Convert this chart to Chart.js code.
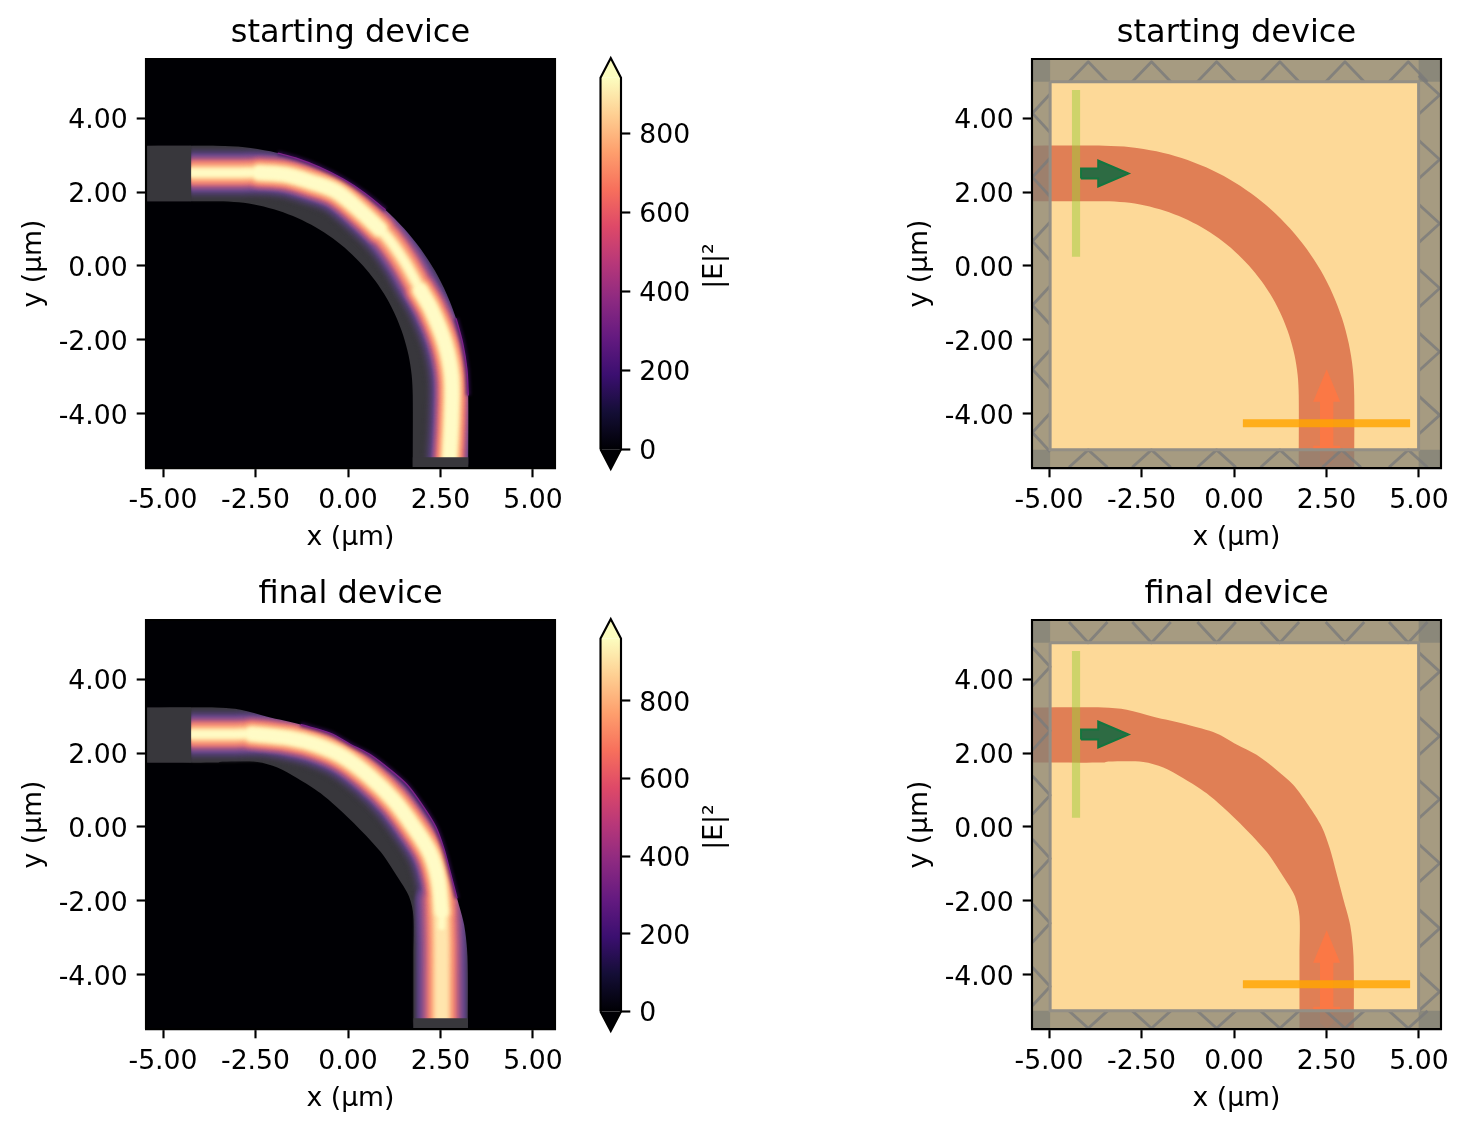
<!DOCTYPE html>
<html><head><meta charset="utf-8">
<script src="https://cdn.jsdelivr.net/npm/chart.js@4"></script>
<style>html,body{margin:0;padding:0;background:#fff;overflow:hidden;width:1468px;height:1132px}canvas{position:absolute}</style>
</head><body>
<script>
// ---------- data ----------
const xTicks=[-5,-2.5,0,2.5,5];
const yTicks=[-4,-2,0,2,4];
const cbTicks=[0,200,400,600,800];
const titles=["starting device","final device"];
const xLabel="x (µm)",yLabel="y (µm)",cbLabel="|E|²";
const vmaxStart=940,vmaxFinal=960;

const startOuter=[[-5.43,3.25],[-3.5,3.25],[-2.795,3.213],[-2.097,3.102],[-1.414,2.92],[-0.755,2.666],[-0.125,2.346],[0.468,1.961],[1.016,1.516],[1.516,1.016],[1.961,0.468],[2.346,-0.125],[2.666,-0.755],[2.92,-1.414],[3.102,-2.097],[3.213,-2.795],[3.25,-3.5],[3.25,-5.43]];
const startInner=[[-5.43,1.75],[-3.5,1.75],[-2.951,1.721],[-2.409,1.635],[-1.878,1.493],[-1.365,1.296],[-0.875,1.047],[-0.414,0.747],[0.013,0.401],[0.401,0.013],[0.747,-0.414],[1.047,-0.875],[1.296,-1.365],[1.493,-1.878],[1.635,-2.409],[1.721,-2.951],[1.75,-3.5],[1.75,-5.43]];
const finalOuter=[[-5.43,3.23],[-3.53,3.23],[-2.9,3.17],[-2.18,2.98],[-1.28,2.77],[-0.47,2.53],[0.07,2.23],[0.61,1.95],[1.15,1.54],[1.6,1.14],[2.01,0.59],[2.37,0.01],[2.59,-0.58],[2.77,-1.25],[2.95,-1.93],[3.14,-2.65],[3.23,-3.5],[3.24,-5.43]];
const finalInner=[[-5.43,1.74],[-3.53,1.74],[-3.4,1.77],[-2.45,1.76],[-1.91,1.61],[-1.37,1.32],[-0.74,0.91],[0.07,0.19],[0.88,-0.67],[1.33,-1.34],[1.65,-1.88],[1.77,-2.42],[1.77,-3.5],[1.77,-5.43]];

const startRidge=[[-4.24,2.52],[-3.19,2.52],[-2.29,2.52],[-1.66,2.46],[-1.03,2.28],[-0.31,2.01],[0.41,1.42],[1.05,0.79],[1.5,0.16],[1.86,-0.47],[2.26,-1.19],[2.62,-2.09],[2.8,-2.99],[2.8,-4.07],[2.74,-5.3]];
const startCoreA=[[-2.4,2.52],[-1.66,2.46],[-1.03,2.28],[-0.31,2.01],[0.41,1.42],[0.85,1.0]];
const startCoreB=[[1.95,-0.65],[2.26,-1.19],[2.62,-2.09],[2.8,-2.99],[2.8,-4.07],[2.74,-5.3]];
const startEdge=[[-1.9,3.05],[-1.414,2.92],[-0.755,2.666],[-0.125,2.346],[0.468,1.961],[1.016,1.516]];
const startEdgeB=[[2.92,-1.414],[3.102,-2.097],[3.213,-2.795],[3.25,-3.5]];

const finalRidge=[[-4.24,2.51],[-3.19,2.51],[-2.29,2.51],[-1.57,2.4],[-0.85,2.22],[-0.13,1.9],[0.59,1.36],[1.23,0.73],[1.77,0.01],[2.22,-0.71],[2.44,-1.43],[2.53,-2.24],[2.53,-3.14],[2.53,-4.05],[2.53,-5.3]];
const finalHot=[[-4.24,2.51],[-3.19,2.51],[-2.29,2.51],[-1.57,2.4],[-0.85,2.22],[-0.13,1.9],[0.59,1.36],[1.23,0.73],[1.77,0.01],[2.22,-0.71],[2.44,-1.43],[2.53,-2.24],[2.53,-2.7]];
const finalCore=[[-2.6,2.51],[-1.57,2.4],[-0.85,2.22],[-0.13,1.9],[0.59,1.36],[1.23,0.73],[1.77,0.01],[2.22,-0.71],[2.44,-1.43],[2.53,-2.3]];
const finalLow=[[2.5,-2.0],[2.53,-3.14],[2.53,-4.05],[2.53,-5.3]];
const finalEdge=[[-1.28,2.77],[-0.47,2.53],[0.07,2.23],[0.61,1.95],[1.15,1.54],[1.6,1.14],[2.01,0.59],[2.37,0.01],[2.59,-0.58],[2.77,-1.25],[2.95,-1.93]];

const startHatchTop=[-3.94,-2.23,-0.47,1.24,3.0,4.71];
const startHatchBottom=[-3.94,-2.23,-0.47,1.24,2.91,4.71];
const startHatchLeft=[4.13,2.4,0.67,-1.06,-2.79,-4.5];
const startHatchRight=[4.62,2.88,1.15,-0.6,-2.32,-4.03];
const finalHatchTop=[-3.94,-2.23,-0.47,1.24,3.0,4.71];
const finalHatchBottom=[-3.94,-2.23,-0.47,1.24,3.0,4.71];
const finalHatchLeft=[4.33,2.6,0.86,-0.85,-2.6,-4.31];
const finalHatchRight=[4.2,2.46,0.75,-0.98,-2.74,-4.45];

const sourceBand=[[-4.38,4.76],[-4.16,4.76],[-4.16,0.25],[-4.38,0.25]];
const monitorBand=[[0.24,-4.14],[4.76,-4.14],[4.76,-4.36],[0.24,-4.36]];
const greenArrow=[[-4.135,2.365],[-3.67,2.365],[-3.67,2.15],[-2.85,2.5],[-3.67,2.85],[-3.67,2.635],[-4.135,2.635]];
const redArrow=[[2.505,-2.79],[2.87,-3.67],[2.685,-3.67],[2.685,-4.86],[2.87,-4.86],[2.87,-4.95],[2.685,-4.95],[2.685,-5.3],[2.505,-5.45],[2.325,-5.3],[2.325,-4.95],[2.14,-4.95],[2.14,-4.86],[2.325,-4.86],[2.325,-3.67],[2.14,-3.67]];
const pmlInner=[[-4.97,4.98],[4.99,4.98],[4.99,-4.97],[-4.97,-4.97]];

// ---------- styles ----------
const XMIN=-5.46,XMAX=5.595,YMIN=-5.46,YMAX=5.595;
const FONT='"DejaVu Sans"';
const TICK=26.67,TITLE=32;
// colour level: width along the ridge, along the bright core, along the lower straight part, along the hottest part
const glowLevels=[
 ['#3b3840',54,0,0,0],['#403a4a',50,0,0,0],['#473c5c',46,0,52,0],['#533f70',42,0,50,0],
 ['#634586',38,0,47,0],['#774c8c',35,0,43,0],['#8f5289',32,33,39,0],['#a85985',29,31,36,0],
 ['#c4657e',26,28,32,0],['#da727a',24,26,29,0],['#ec8276',22,24,26,0],['#f69477',19,22,23,0],
 ['#fba87f',16,20,20,0],['#fdbd8c',14,18,17,0],['#fed19b',11,16,14,0],['#ffe5ad',0,14,11,9],
 ['#fff4ba',0,12,0,7],['#fffbc6',0,10,0,4]];
const magma=['#000004','#140e36','#3b0f70','#641a80','#8c2981','#b73779','#de4968','#f7705c','#fe9f6d','#fecf92','#fcfdbf'];

const pts=a=>a.map(p=>({x:p[0],y:p[1]}));
function poly(a,fillC,strokeC,w,extra){return Object.assign({data:pts(a.concat([a[0]])),showLine:true,fill:'shape',backgroundColor:fillC,borderColor:strokeC||'transparent',borderWidth:w||0,pointRadius:0,borderJoinStyle:'miter'},extra||{});}
function line(a,c,w,extra){return Object.assign({data:pts(a),showLine:true,fill:false,borderColor:c,borderWidth:w,pointRadius:0,borderCapStyle:'butt',borderJoinStyle:'round'},extra||{});}
function order(ds){const n=ds.length;ds.forEach((d,i)=>d.order=n-i);return ds;}
const rect=[[XMIN,YMIN],[XMAX,YMIN],[XMAX,YMAX],[XMIN,YMAX]];

const blurPlugin={id:'softField',
  beforeDatasetDraw(ch,a){const b=ch.data.datasets[a.index].soft;if(b)ch.ctx.filter='blur('+b+'px)';},
  afterDatasetDraw(ch,a){if(ch.data.datasets[a.index].soft)ch.ctx.filter='none';},
  beforeDraw(ch){const s=ch.scales.y;s.getLabelItems().forEach(i=>{if(!i.__m){i.__m=1;i.options.translation=[i.options.translation[0],i.options.translation[1]+3];}});}};

function axes(){
  const common={type:'linear',border:{display:true,color:'#000',width:2.13},
    grid:{drawOnChartArea:false,drawTicks:true,tickLength:9.3,tickColor:'#000',tickWidth:2.13}};
  return {
    x:Object.assign({},common,{min:XMIN,max:XMAX,
      afterBuildTicks:s=>{s.ticks=xTicks.map(v=>({value:v}))},
      afterFit:s=>{s.height=92;s.paddingLeft=0;s.paddingRight=0},
      ticks:{color:'#000',font:{family:FONT,size:TICK},padding:8,maxRotation:0,autoSkip:false,callback:v=>v.toFixed(2)},
      title:{display:true,text:xLabel,color:'#000',font:{family:FONT,size:TICK},padding:{top:0,bottom:6}}}),
    y:Object.assign({},common,{min:YMIN,max:YMAX,
      afterBuildTicks:s=>{s.ticks=yTicks.map(v=>({value:v}))},
      afterFit:s=>{s.width=145;s.paddingTop=0;s.paddingBottom=0},
      ticks:{color:'#000',font:{family:FONT,size:TICK},padding:9,autoSkip:false,callback:v=>v.toFixed(2)},
      title:{display:true,text:yLabel,color:'#000',font:{family:FONT,size:TICK},padding:{top:17,bottom:0}}})
  };
}
function addCanvas(l,t,w,h){const c=document.createElement('canvas');c.width=w;c.height=h;c.style.left=l+'px';c.style.top=t+'px';c.style.width=w+'px';c.style.height=h+'px';document.body.appendChild(c);return c;}
function panel(axL,axT,title,datasets){
  const c=addCanvas(axL-145,axT-50,582,551);
  new Chart(c,{type:'scatter',data:{datasets:order(datasets)},options:{responsive:false,animation:false,events:[],
    layout:{padding:{left:0,right:28,top:0,bottom:0}},scales:axes(),
    plugins:{legend:{display:false},tooltip:{enabled:false},
      title:{display:true,text:title,color:'#000',fullSize:false,font:{family:FONT,size:TITLE,weight:'normal'},padding:{top:5,bottom:6.6}}}},
    plugins:[blurPlugin]});
}
function colorbar(axT,barH,vmax,yMinV,yMaxV,labelY){
  const top=axT-6;
  const c=addCanvas(590,top,190,barH+12);
  const bar=[[0,0],[1,0],[1,vmax],[0,vmax]];
  const outline=[[0,0],[0.5,yMinV],[1,0],[1,vmax],[0.5,yMaxV],[0,vmax]];
  const grad=ctx=>{const ch=ctx.chart;if(!ch.chartArea)return '#000';const s=ch.scales.y;
    const g=ch.ctx.createLinearGradient(0,s.getPixelForValue(0),0,s.getPixelForValue(vmax));
    magma.forEach((m,i)=>g.addColorStop(i/(magma.length-1),m));return g;};
  const ds=[
    poly([[0,0],[0.5,yMinV],[1,0]],'#000004',null,0,{clip:false}),
    poly([[0,vmax],[0.5,yMaxV],[1,vmax]],'#fcfdbf',null,0,{clip:false}),
    poly(bar,grad,null,0,{clip:false}),
    poly(outline,'transparent','#000',2.13,{clip:false})
  ];
  new Chart(c,{type:'scatter',data:{datasets:order(ds)},options:{responsive:false,animation:false,events:[],
    layout:{padding:{left:10.5,right:0,top:6,bottom:6}},
    scales:{x:{type:'linear',display:false,min:0,max:1},
      y:{type:'linear',position:'right',min:yMinV,max:yMaxV,border:{display:false},
        afterBuildTicks:s=>{s.ticks=cbTicks.map(v=>({value:v}))},
        afterFit:s=>{s.width=190-10.5-20.5;s.paddingTop=0;s.paddingBottom=0},
        grid:{drawOnChartArea:false,drawTicks:true,tickLength:9.3,tickColor:'#000',tickWidth:2.13},
        ticks:{color:'#000',font:{family:FONT,size:TICK},padding:9,autoSkip:false,callback:v=>String(v)}}},
    plugins:{legend:{display:false},tooltip:{enabled:false}}},
    plugins:[blurPlugin,{id:'cbTitle',afterDraw(ch){const x=ch.ctx;x.save();x.translate(125,labelY-top);x.rotate(-Math.PI/2);
      x.font='26.67px '+FONT;x.fillStyle='#000';x.textAlign='center';x.textBaseline='middle';x.fillText(cbLabel,0,0);x.restore();}}]});
}
// polygon of a waveguide, corners doubled so that the smoothing keeps them sharp
function guide(outer,inner){
  const o=outer,i=inner.slice().reverse();
  return [o[0]].concat(o,[o[o.length-1]],[i[0]],i,[i[i.length-1]]);
}
function fieldSets(outer,inner,ridge,hot,cores,lows,edges){
  const last=outer.length-1,ilast=inner.length-1;
  const outside=[outer[0]].concat(outer,[outer[last]],[[outer[last][0],YMIN],[XMAX,YMIN],[XMAX,YMAX],[XMIN,YMAX],[XMIN,outer[0][1]]]);
  const ds=[poly(rect,'#000004'),poly(guide(outer,inner),'#38373c',null,0,{tension:0.3})];
  const S=1.8;
  glowLevels.forEach(([c,wRidge,wCore,wLow,wHot])=>{
    if(wRidge)ds.push(line(ridge,c,wRidge,{tension:0.35,soft:S}));
    if(wHot)ds.push(line(hot,c,wHot,{tension:0.35,soft:S,borderCapStyle:'round'}));
    if(wLow)lows.forEach(l=>ds.push(line(l,c,wLow,{tension:0.2,borderCapStyle:'round',soft:S})));
    if(wCore)cores.forEach(k=>ds.push(line(k,c,wCore,{tension:0.35,borderCapStyle:'round',soft:S})));
  });
  ds.push(poly(outside,'#000004',null,0,{tension:0.3}));
  edges.forEach(e=>{ds.push(line(e,'rgba(60,15,95,0.6)',5,{tension:0.3,soft:1.5}));ds.push(line(e,'#7d2388',1.4,{tension:0.3}));});
  const stubY=ridge[ridge.length-1][1]+0.13;
  ds.push(poly([[inner[ilast][0],stubY],[outer[last][0],stubY],outer[last],inner[ilast]],'#38373c'));
  ds.push(poly([[outer[0][0],outer[0][1]],[-4.24,outer[0][1]],[-4.24,inner[0][1]],[inner[0][0],inner[0][1]]],'#38373c'));
  ds.push(poly(rect,'transparent','#000',2.13,{clip:false}));
  return ds;
}
function deviceSets(outer,inner,hTop,hTopY,hBot,hBotY,hLeft,hLeftX,hRight,hRightX){
  const P='rgba(128,128,120,0.7)',H='rgba(122,122,122,0.8)';
  const dx=0.52;
  const ds=[poly(rect,'#fdd998'),poly(guide(outer,inner),'#e07f55',null,0,{tension:0.3})];
  ds.push(poly(redArrow,'#fb7845'));
  ds.push(poly(greenArrow,'#2d6b43','#14753f',2));
  ds.push(poly(monitorBand,'rgba(255,165,0,0.82)'));
  ds.push(poly(sourceBand,'rgba(160,206,60,0.5)'));
  ds.push(poly([[XMIN,4.98],[XMAX,4.98],[XMAX,YMAX],[XMIN,YMAX]],P));
  ds.push(poly([[XMIN,YMIN],[XMAX,YMIN],[XMAX,-4.97],[XMIN,-4.97]],P));
  ds.push(poly([[XMIN,YMIN],[-4.97,YMIN],[-4.97,YMAX],[XMIN,YMAX]],P));
  ds.push(poly([[4.99,YMIN],[XMAX,YMIN],[XMAX,YMAX],[4.99,YMAX]],P));
  hTop.forEach(v=>ds.push(line([[v-dx,hTopY[1]],[v,hTopY[0]],[v+dx,hTopY[1]]],H,2.8)));
  hBot.forEach(v=>ds.push(line([[v-dx,hBotY[1]],[v,hBotY[0]],[v+dx,hBotY[1]]],H,2.8)));
  hLeft.forEach(v=>ds.push(line([[hLeftX[1],v-dx],[hLeftX[0],v],[hLeftX[1],v+dx]],H,2.8)));
  hRight.forEach(v=>ds.push(line([[hRightX[1],v-dx],[hRightX[0],v],[hRightX[1],v+dx]],H,2.8)));
  ds.push(poly(pmlInner,'transparent','#948f85',3));
  ds.push(poly(rect,'transparent','#000',2.13,{clip:false}));
  return ds;
}
panel(146,59,titles[0],fieldSets(startOuter,startInner,startRidge,startRidge,[startCoreA,startCoreB],[],[startEdge,startEdgeB]));
panel(146,620,titles[1],fieldSets(finalOuter,finalInner,finalRidge,finalHot,[finalCore],[finalLow],[finalEdge]));
panel(1032,59,titles[0],deviceSets(startOuter,startInner,startHatchTop,[5.52,4.98],startHatchBottom,[-4.97,-5.44],startHatchLeft,[-5.45,-4.97],startHatchRight,[5.56,4.99]));
panel(1032,620,titles[1],deviceSets(finalOuter,finalInner,finalHatchTop,[4.98,5.54],finalHatchBottom,[-5.44,-4.97],finalHatchLeft,[-4.97,-5.45],finalHatchRight,[5.56,4.99]));
colorbar(58,411,vmaxStart,-50,990,266);
colorbar(619,412,vmaxFinal,-50,1010,827);
</script>
</body></html>
